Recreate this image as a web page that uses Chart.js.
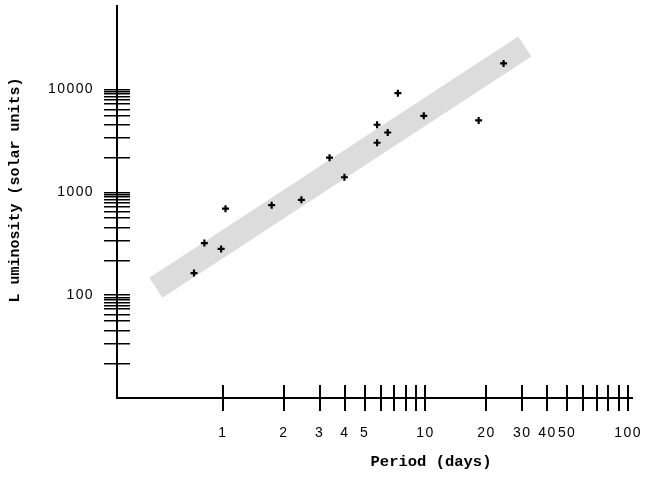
<!DOCTYPE html>
<html><head><meta charset="utf-8">
<script src="https://cdn.jsdelivr.net/npm/chart.js@4"></script>
<style>html,body{margin:0;padding:0;background:#fff}#wrap{width:645px;height:478px;position:relative}</style>
</head><body><div id="wrap"><canvas id="c"></canvas></div>
<script>
// ---- data ----
const periodDays = [0.72, 0.81, 0.98, 1.03, 1.74, 2.44, 3.36, 3.98, 5.77, 5.77, 6.51, 7.31, 9.81, 18.3, 24.3];
const luminosity = [164, 321, 281, 692, 749, 845, 2170, 1400, 4530, 3030, 3810, 9190, 5540, 4990, 17900];
const bandPeriod = [0.467, 30.9];
const bandLum = [118, 26100];
const xTicks = [1,2,3,4,5,6,7,8,9,10,20,30,40,50,60,70,80,90,100];
const xLabels = [1,2,3,4,5,10,20,30,40,50,100];
const yDecades = [100, 1000, 10000];
const yMinorFactors = [0.95, 0.9, 0.84, 0.79, 0.73, 0.64, 0.56, 0.45, 0.34, 0.215];
const yLabels = [100, 1000, 10000];
const xRange = [0.3126, 104.6];
const yRange = [10, 64380];
const xTitle = 'Period (days)';
const yTitle = 'L uminosity (solar units)';

const yTicks = [];
yDecades.forEach(d => { yTicks.push(d); yMinorFactors.forEach(f => yTicks.push(d * f)); });
yTicks.sort((a, b) => a - b);

const points = periodDays.map((p, i) => ({x: p, y: luminosity[i]}));
const band = bandPeriod.map((p, i) => ({x: p, y: bandLum[i]}));

const TL = 13;
const axisExtras = {
  id: 'axisExtras',
  beforeDraw(chart) {
    chart.ctx.letterSpacing = '1.4px';
  },
  afterDraw(chart) {
    const {ctx, scales: {x, y}} = chart;
    ctx.save();
    ctx.strokeStyle = '#000';
    ctx.lineWidth = 2;
    ctx.beginPath();
    const yb = Math.round(x.top);
    x.ticks.forEach((t, i) => {
      const px = Math.round(x.getPixelForTick(i));
      ctx.moveTo(px, yb); ctx.lineTo(px, yb - TL);
    });
    ctx.stroke();
    ctx.lineWidth = 1.5;
    ctx.beginPath();
    const xl = Math.round(y.right);
    y.ticks.forEach((t, i) => {
      const py = Math.round(y.getPixelForTick(i) - 0.75) + 0.75;
      ctx.moveTo(xl, py); ctx.lineTo(xl + TL, py);
    });
    ctx.stroke();
    ctx.letterSpacing = '0px';
    ctx.fillStyle = '#000';
    ctx.textAlign = 'center';
    ctx.textBaseline = 'middle';
    ctx.font = 'bold 15.5px "Liberation Mono", "DejaVu Sans Mono", monospace';
    ctx.fillText(xTitle, 431, 462);
    ctx.translate(15, 190);
    ctx.rotate(-Math.PI / 2);
    ctx.font = 'bold 15px "Liberation Mono", "DejaVu Sans Mono", monospace';
    ctx.fillText(yTitle, 0, 0);
    ctx.restore();
  }
};

new Chart(document.getElementById('c'), {
  type: 'scatter',
  data: {
    datasets: [
      {
        data: points,
        pointStyle: 'cross',
        pointRadius: 3.5,
        pointBorderWidth: 2.2,
        borderColor: '#000',
        backgroundColor: '#000',
        order: 1
      },
      {
        data: band,
        showLine: true,
        borderColor: '#dcdcdc',
        borderWidth: 24,
        borderCapStyle: 'butt',
        pointRadius: 0,
        order: 2
      }
    ]
  },
  options: {
    responsive: true,
    maintainAspectRatio: false,
    animation: false,
    layout: {padding: {top: 4, right: 13, left: 0, bottom: 0}},
    plugins: {legend: {display: false}, tooltip: {enabled: false}},
    scales: {
      x: {
        type: 'logarithmic',
        min: xRange[0], max: xRange[1],
        afterBuildTicks: s => { s.ticks = xTicks.map(v => ({value: v})); },
        afterFit: s => { s.height = 80; s.paddingLeft = 0; s.paddingRight = 0; },
        grid: {drawOnChartArea: false, drawTicks: true, tickLength: TL, color: '#000', lineWidth: 2},
        border: {display: true, color: '#000', width: 2},
        ticks: {
          autoSkip: false, maxRotation: 0, padding: 14, color: '#000',
          font: {family: '"Liberation Sans", Arial, sans-serif', size: 14},
          callback: v => xLabels.includes(v) ? String(v) : ''
        }
      },
      y: {
        type: 'logarithmic',
        min: yRange[0], max: yRange[1],
        afterBuildTicks: s => { s.ticks = yTicks.map(v => ({value: v})); },
        afterFit: s => { s.width = 117; s.paddingTop = 0; s.paddingBottom = 0; },
        grid: {drawOnChartArea: false, drawTicks: true, tickLength: TL, color: '#000', lineWidth: 1.5},
        border: {display: true, color: '#000', width: 2},
        ticks: {
          autoSkip: false, padding: 10, color: '#000',
          font: {family: '"Liberation Sans", Arial, sans-serif', size: 14},
          callback: v => yLabels.includes(v) ? String(v) : ''
        }
      }
    }
  },
  plugins: [axisExtras]
});
</script>
</body></html>
